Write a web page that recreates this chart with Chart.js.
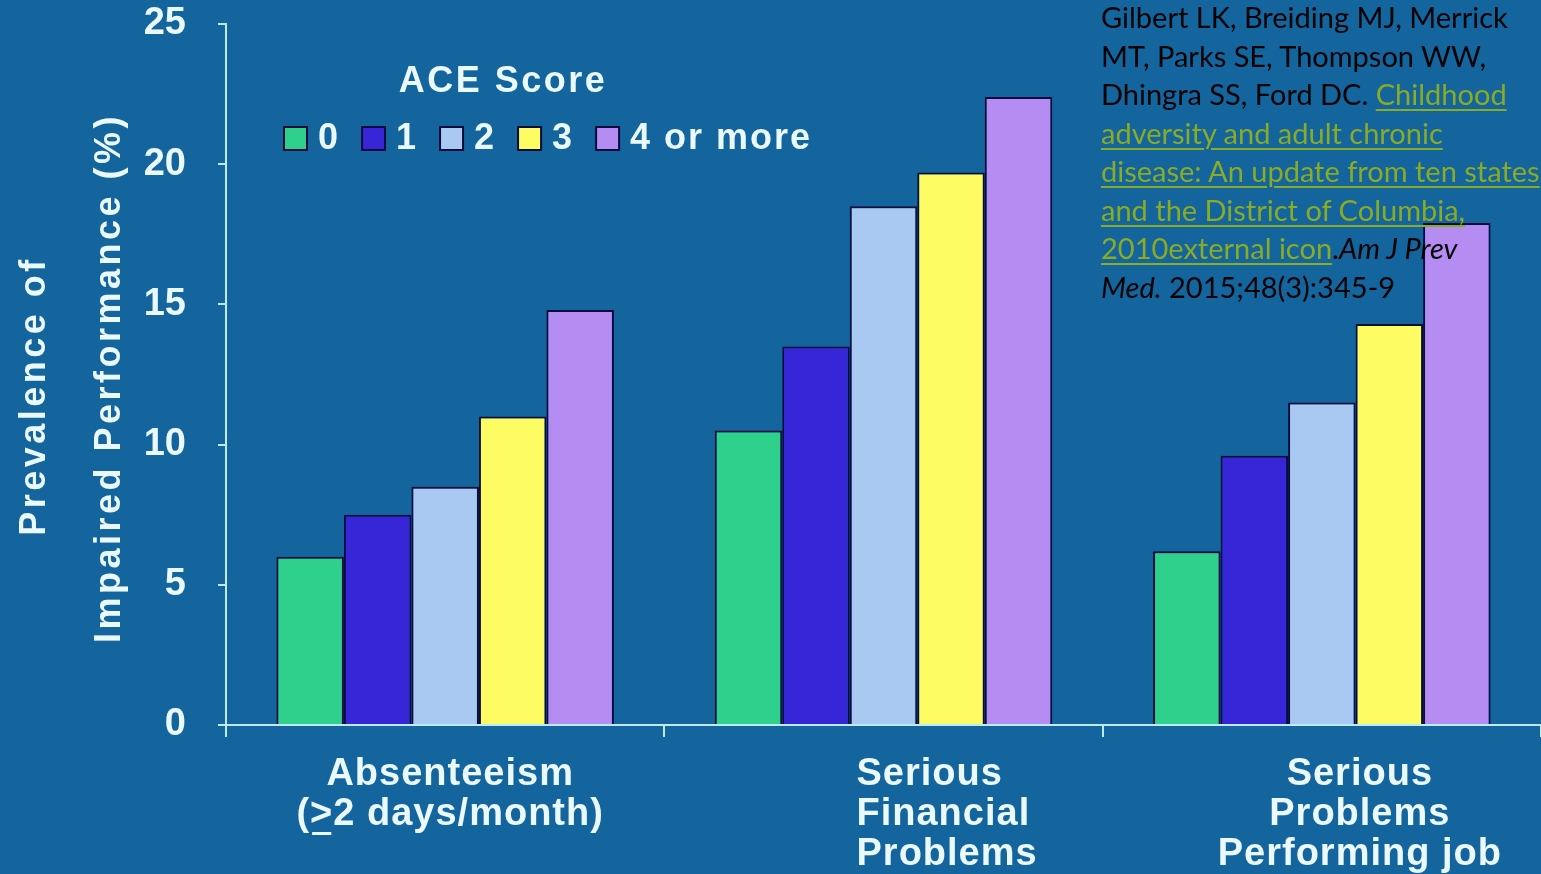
<!DOCTYPE html>
<html>
<head>
<meta charset="utf-8">
<title>ACE Score and Impaired Performance</title>
<script src="https://cdn.jsdelivr.net/npm/chart.js@4.4.1/dist/chart.umd.min.js"></script>
<style>
  html, body { margin: 0; padding: 0; background: #14649e; overflow: hidden; }
  #wrap { position: relative; width: 1541px; height: 874px; }
  #chart { position: absolute; left: 0; top: 0; }
  #cite {
    position: absolute; left: 1101px; top: -2px;
    font-family: Lato, "Open Sans", sans-serif; font-size: 29px; line-height: 38.5px;
    color: #030303; white-space: nowrap; pointer-events: none;
  }
  #cite a { color: #8aab24; text-decoration: underline; text-decoration-thickness: 2px; text-underline-offset: 4px; }
</style>
</head>
<body>
<div id="wrap">
  <canvas id="chart" width="1541" height="874"></canvas>
  <div id="cite">Gilbert LK, Breiding MJ, Merrick<br>MT, Parks SE, Thompson WW,<br>Dhingra SS, Ford DC. <a>Childhood</a><br><a>adversity and adult chronic</a><br><a>disease: An update from ten states</a><br><a>and the District of Columbia,</a><br><a>2010external icon</a>.<i>Am J Prev</i><br><i>Med.</i> 2015;48(3):345-9</div>
</div>
<script>
// Outcome categories and their multi-line axis labels
const categories = ['Absenteeism', 'Serious Financial Problems', 'Serious Problems Performing job'];
const categoryLines = [
  ['Absenteeism', '(>2 days/month)'],
  ['Serious', 'Financial', 'Problems'],
  ['Serious', 'Problems', 'Performing job']
];

// ACE score groups (legend entries)
const aceScores = ['0', '1', '2', '3', '4 or more'];

// Prevalence of impaired performance (%) by ACE score
const ace0 = [6.0, 10.5, 6.2];
const ace1 = [7.5, 13.5, 9.6];
const ace2 = [8.5, 18.5, 11.5];
const ace3 = [11.0, 19.7, 14.3];
const ace4 = [14.8, 22.4, 17.9];

// Y axis ticks
const yTicks = [0, 5, 10, 15, 20, 25];

const seriesValues = [ace0, ace1, ace2, ace3, ace4];
const seriesColors = ['#2fcf8c', '#3626d8', '#a9c8f2', '#fdfc62', '#b48cf2'];

const AXIS_COLOR = '#bfe9f4';
const TEXT_COLOR = '#e9f9fc';
const BOLD = '"Liberation Sans", Arial, sans-serif';

// Per-category label placement under the axis
const labelStyle = [
  { align: 'center', dx: 5 },
  { align: 'left', dx: -27 },
  { align: 'center', dx: 38 }
];

const decorations = {
  id: 'decorations',
  afterDraw(chart) {
    const ctx = chart.ctx;
    const xs = chart.scales.x;
    const area = chart.chartArea;
    ctx.save();
    ctx.fillStyle = TEXT_COLOR;
    ctx.textBaseline = 'middle';

    // Y axis title, two rotated lines
    ctx.font = 'bold 36px ' + BOLD;
    ctx.letterSpacing = '3.5px';
    ctx.textAlign = 'center';
    [['Prevalence of', 35, 396], ['Impaired Performance (%)', 110, 378]].forEach(([t, x, y]) => {
      ctx.save();
      ctx.translate(x, y);
      ctx.rotate(-Math.PI / 2);
      ctx.fillText(t, 0, 0);
      ctx.restore();
    });

    // Category labels
    ctx.font = 'bold 38px ' + BOLD;
    ctx.letterSpacing = '1px';
    categoryLines.forEach((lines, i) => {
      const st = labelStyle[i];
      const cx = xs.getPixelForValue(i) + st.dx;
      ctx.textAlign = st.align;
      lines.forEach((line, j) => {
        const y = area.bottom + 50 + j * 40;
        ctx.fillText(line, cx, y);
        const k = line.indexOf('>');
        if (k >= 0) {
          const full = ctx.measureText(line).width;
          const pre = ctx.measureText(line.slice(0, k)).width;
          const gw = ctx.measureText('>').width;
          const left = st.align === 'center' ? cx - full / 2 : cx;
          ctx.fillRect(left + pre + 2, y + 17, gw - 4, 3);
        }
      });
    });

    // Legend with title
    ctx.letterSpacing = '2.5px';
    ctx.font = 'bold 36px ' + BOLD;
    ctx.textAlign = 'center';
    ctx.fillText('ACE Score', area.left + 277, 82);

    ctx.letterSpacing = '2px';
    ctx.textAlign = 'left';
    let x = area.left + 58;
    const ly = 138;
    chart.data.datasets.forEach((ds) => {
      ctx.fillStyle = ds.backgroundColor;
      ctx.fillRect(x, ly - 11, 23, 23);
      ctx.strokeStyle = '#0b0b3c';
      ctx.lineWidth = 2;
      ctx.strokeRect(x, ly - 11, 23, 23);
      x += 34;
      ctx.fillStyle = TEXT_COLOR;
      ctx.fillText(ds.label, x, ly + 1);
      x += ctx.measureText(ds.label).width + 22;
    });
    ctx.restore();
  }
};

new Chart(document.getElementById('chart'), {
  type: 'bar',
  data: {
    labels: categories,
    datasets: aceScores.map((s, i) => ({
      label: s,
      data: seriesValues[i],
      backgroundColor: seriesColors[i],
      borderColor: '#0b0b3c',
      borderWidth: 2,
      categoryPercentage: 0.77,
      barPercentage: 1.0
    }))
  },
  options: {
    responsive: false,
    animation: false,
    layout: { padding: { top: 24, right: 0, left: 0, bottom: 0 } },
    plugins: { legend: { display: false }, tooltip: { enabled: false } },
    scales: {
      x: {
        grid: { drawOnChartArea: false, drawTicks: true, tickLength: 12, color: AXIS_COLOR, lineWidth: 2, offset: true },
        border: { color: AXIS_COLOR, width: 2 },
        ticks: { display: false },
        afterFit(s) { s.height = 149; s.paddingLeft = 0; s.paddingRight = 0; }
      },
      y: {
        min: 0,
        max: 25,
        afterBuildTicks(s) { s.ticks = yTicks.map(v => ({ value: v })); },
        grid: { drawOnChartArea: false, drawTicks: true, tickLength: 8, color: AXIS_COLOR, lineWidth: 2 },
        border: { color: AXIS_COLOR, width: 2 },
        ticks: { color: TEXT_COLOR, padding: 32, font: { family: BOLD, size: 38, weight: 'bold' } },
        afterFit(s) { s.width = 226; s.paddingTop = 0; s.paddingBottom = 0; }
      }
    }
  },
  plugins: [decorations]
});
</script>
</body>
</html>
